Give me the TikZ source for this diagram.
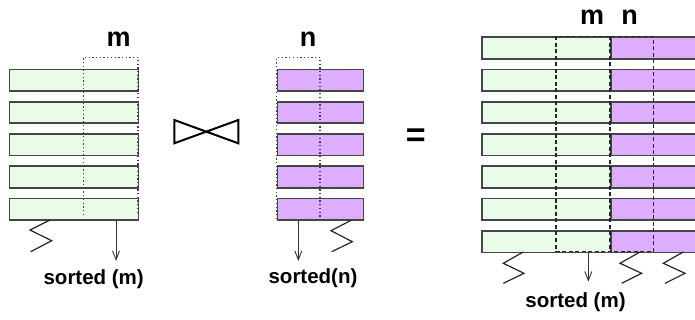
\documentclass[tikz,border=0pt]{standalone}
\usepackage{fontspec}
\setmainfont{Liberation Sans}
\usetikzlibrary{arrows.meta}
\definecolor{mintfill}{HTML}{E8FCE8}
\definecolor{lilacfill}{HTML}{DDAEFF}
\definecolor{edgegray}{HTML}{454545}

\begin{document}
\begin{tikzpicture}[x=1pt,y=-1pt,
  rowbox/.style={draw=edgegray, line width=1.6pt, inner sep=0pt, anchor=north west, minimum height=21.5pt},
  greenrow/.style={rowbox, fill=mintfill},
  purplerow/.style={rowbox, fill=lilacfill},
  dotline/.style={draw=black!75, line width=1.2pt, dash pattern=on 1.3pt off 2.4pt},
  dashline/.style={draw=black!85, line width=1.1pt, dash pattern=on 4pt off 2.5pt},
  zig/.style={draw=black!85, line width=1.2pt, line join=miter},
  sortarrow/.style={draw=black!80, line width=0.9pt, -{Straight Barb[length=9pt,width=7pt]}},
  attrlabel/.style={font=\fontsize{27}{27}\selectfont\bfseries, inner sep=0pt, anchor=base},
  sortlabel/.style={font=\fontsize{20.5}{20.5}\selectfont\bfseries, inner sep=0pt, anchor=base},
]
\useasboundingbox (0,0) rectangle (695,320);

% left relation: five tuples
\foreach \i in {1,...,5}
  \node[greenrow, minimum width=129pt] (L\i) at (8.5,{36.5+32.25*\i}) {};
% middle relation: five tuples
\foreach \i in {1,...,5}
  \node[purplerow, minimum width=86pt] (M\i) at (276.7,{36.5+32.25*\i}) {};
% joined relation: seven tuples, green part then purple part
\foreach \i in {0,...,6} {
  \node[greenrow, minimum width=129pt] (RG\i) at (481,{36.5+32.25*\i}) {};
  \node[purplerow, minimum width=85pt] (RP\i) at (610,{36.5+32.25*\i}) {};
}

% attribute columns
\draw[dotline] (83.3,215) -- (83.3,57.5) -- (138,57.5) -- (138,215);
\draw[dotline] (276.7,219) -- (276.7,57.5) -- (320,57.5) -- (320,219);
\draw[dashline] (556,36.5) rectangle (653.3,251.5);
\draw[dashline] (610,36.5) -- (610,251.5);

% attribute names
\node[attrlabel] (mL) at (118.7,46.7) {m};
\node[attrlabel] (nM) at (308,46.7) {n};
\node[attrlabel] (mR) at (592,25) {m};
\node[attrlabel] (nR) at (629.5,25) {n};

% join symbol and equals sign
\draw[line width=2pt, line join=miter] (174.3,120) -- (238.3,143.3) -- (238.3,120) -- (174.3,143.3) -- cycle;
\node[font=\fontsize{34}{34}\selectfont\bfseries, inner sep=0pt] (eq) at (415.8,137.5) {=};

% unsorted marks
\draw[zig] (50,220) -- (30,230) -- (51.7,240.7) -- (30.7,251.7);
\draw[zig] (351.7,220) -- (331,230.7) -- (352.3,241.7) -- (331.7,251.7);
\draw[zig] (523.3,252) -- (503.3,263.3) -- (524,273.3) -- (503.3,283.3);
\draw[zig] (640,252) -- (620,263.3) -- (641.7,273.3) -- (621.7,283.3);
\draw[zig] (683.3,252) -- (663.3,263.3) -- (685,273.3) -- (665,283.3);

% sort order labels and arrows
\node[sortlabel] (sL) at (93.7,284) {sorted (m)};
\node[sortlabel] (sM) at (313,283.5) {sorted(n)};
\node[sortlabel] (sR) at (575.5,307.5) {sorted (m)};
\coordinate (tipL) at (116,261);
\coordinate (tipM) at (298.3,261);
\coordinate (tipR) at (588.3,281.7);
\draw[sortarrow] (tipL |- L5.south) -- (tipL);
\draw[sortarrow] (tipM |- M5.south) -- (tipM);
\draw[sortarrow] (tipR |- RG6.south) -- (tipR);
\end{tikzpicture}
\end{document}
